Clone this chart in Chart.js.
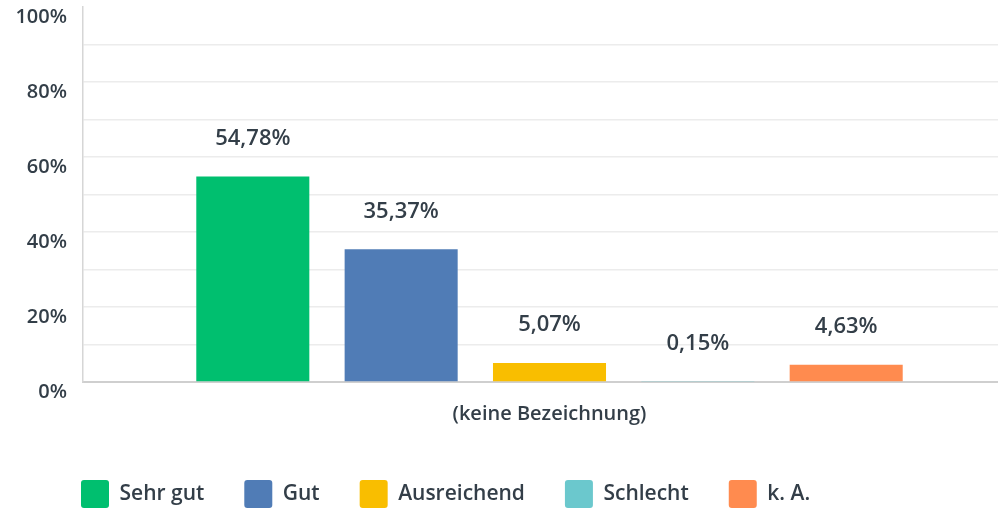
<!DOCTYPE html>
<html>
<head>
<meta charset="utf-8">
<script src="https://cdn.jsdelivr.net/npm/chart.js@4/dist/chart.umd.min.js"></script>
<style>
  html, body { margin: 0; padding: 0; background: #fff; }
  #wrap { width: 998px; height: 510px; overflow: hidden; position: relative; }
  #box { width: 1016px; height: 518px; }
</style>
</head>
<body>
<div id="wrap"><div id="box"><canvas id="answers"></canvas></div></div>
<script>
// data
var categories = ['(keine Bezeichnung)'];
var seriesNames = ['Sehr gut', 'Gut', 'Ausreichend', 'Schlecht', 'k. A.'];
var seriesValues = [[54.78], [35.37], [5.07], [0.15], [4.63]];
var seriesColors = ['#00bf6f', '#507cb6', '#f9be00', '#6bc8cd', '#ff8b4f'];
var tickValues = [0, 20, 40, 60, 80, 100];

var textColor = '#333e48';
var fontFamily = '"Open Sans", sans-serif';

// value labels above the bars
var valueLabels = {
    id: 'valueLabels',
    afterLayout: function(chart) {
        // legend starts under the y axis labels
        chart.legend.left = 41;
    },
    afterDatasetsDraw: function(chart) {
        var ctx = chart.ctx;
        ctx.save();
        ctx.font = '600 22px ' + fontFamily;
        ctx.fillStyle = textColor;
        ctx.textAlign = 'center';
        ctx.textBaseline = 'middle';
        chart.data.datasets.forEach(function(ds, i) {
            chart.getDatasetMeta(i).data.forEach(function(bar, j) {
                var txt = ds.data[j].toFixed(2).replace('.', ',') + '%';
                ctx.fillText(txt, bar.x, bar.y - 38);
            });
        });
        ctx.restore();
    }
};

var datasets = seriesNames.map(function(name, i) {
    return {
        label: name,
        data: seriesValues[i],
        backgroundColor: seriesColors[i],
        borderWidth: 0,
        categoryPercentage: 0.795,
        barPercentage: 0.762
    };
});

var noPad = function(s) {
    s.paddingTop = 0;
    s.paddingBottom = 0;
    s.paddingLeft = 0;
    s.paddingRight = 0;
};

var ctx = document.getElementById('answers').getContext('2d');
var myChart = new Chart(ctx, {
    type: 'bar',
    data: {
        labels: categories,
        datasets: datasets
    },
    options: {
        responsive: true,
        maintainAspectRatio: false,
        animation: false,
        layout: { padding: { left: 0, top: 7, right: 0, bottom: 0 } },
        plugins: {
            tooltip: { enabled: false },
            legend: {
                position: 'bottom',
                align: 'start',
                labels: {
                    boxWidth: 28,
                    boxHeight: 28,
                    padding: 40,
                    useBorderRadius: true,
                    borderRadius: 3,
                    color: textColor,
                    font: { family: fontFamily, size: 21, weight: '600' }
                }
            }
        },
        scales: {
            x: {
                grid: { display: false },
                border: { display: true, color: '#cfcfcf', width: 2 },
                ticks: {
                    color: textColor,
                    padding: 12,
                    font: { family: fontFamily, size: 20, weight: '600' }
                },
                afterFit: function(s) { s.height = 58; noPad(s); }
            },
            y: {
                min: 0,
                max: 100,
                grid: {
                    drawTicks: false,
                    lineWidth: 1.5,
                    color: function(c) {
                        return c.tick && c.tick.value === 100 ? 'rgba(0,0,0,0)' : '#ececec';
                    }
                },
                border: { display: true, color: '#d6d6d6', width: 1.5 },
                ticks: {
                    stepSize: 10,
                    padding: 16,
                    labelOffset: 10,
                    color: textColor,
                    font: { family: fontFamily, size: 20, weight: '600' },
                    callback: function(v) {
                        return tickValues.indexOf(v) >= 0 ? v + '%' : '';
                    }
                },
                afterFit: function(s) { s.width = 83; noPad(s); }
            }
        }
    },
    plugins: [valueLabels]
});
</script>
</body>
</html>
